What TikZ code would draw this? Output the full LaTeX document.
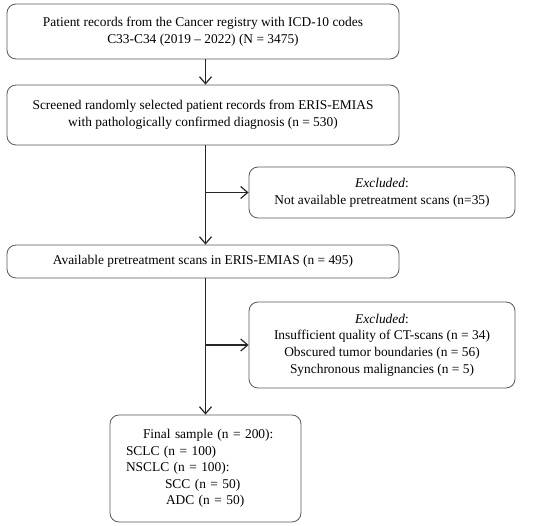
\documentclass[tikz,border=0pt]{standalone}
\usepackage{fontspec}
\setmainfont{Liberation Serif}
\usetikzlibrary{arrows.meta,positioning,calc}

\begin{document}
\begin{tikzpicture}[
	%	style def
    x=1pt, y=-1pt,
    box/.style={draw=black!65, line width=0.8pt, rounded corners=9pt, align=center,
        font=\fontsize{13.4}{16.6}\selectfont, inner sep=0pt},
    flow line/.style={line width=1.2pt, color=black!85, -{Straight Barb[length=7pt,width=12pt]}},
    every node/.style={color=black}
    ]
    \useasboundingbox (0,0) rectangle (550,526);

	% main column of boxes
    \node[box, minimum width=392pt, minimum height=55pt] (records) at (203,31.5)
        {Patient records from the Cancer registry with ICD-10 codes\\C33-C34 (2019 -- 2022) (N = 3475)};
    \node[box, minimum width=392pt, minimum height=60pt] (screened) at (203,115)
        {Screened randomly selected patient records from ERIS-EMIAS\\with pathologically confirmed diagnosis (n = 530)};
    \node[box, minimum width=392pt, minimum height=33pt] (avail) at (203,261.5)
        {Available pretreatment scans in ERIS-EMIAS (n = 495)};
    \node[box, minimum width=191pt, minimum height=107pt, text width=159pt, inner xsep=16pt, align=left] (final) at (205.5,468.5)
        {\hspace*{17pt}Final sample (n = 200):\\
         SCLC (n = 100)\\
         NSCLC (n = 100):\\
         \hspace*{39pt}SCC (n = 50)\\
         \hspace*{40pt}ADC (n = 50)};

    % excluded boxes on the right
    \node[box, minimum width=266pt, minimum height=51pt] (excl1) at (382,192.5)
        {\textit{Excluded}:\\Not available pretreatment scans (n=35)};
    \node[box, minimum width=266pt, minimum height=86pt] (excl2) at (382,345)
        {\textit{Excluded}:\\Insufficient quality of CT-scans (n = 34)\\
         Obscured tumor boundaries (n = 56)\\Synchronous malignancies (n = 5)};

    % connections
    \draw[flow line] (records.south -| final.north) -- (screened.north -| final.north);
    \draw[flow line] (screened.south -| final.north) -- (avail.north -| final.north);
    \draw[flow line] (avail.south -| final.north) -- (final.north);
    \coordinate (b1) at (screened.south -| final.north);
    \coordinate (b2) at (avail.south -| final.north);
    \draw[flow line] (b1 |- excl1.west) -- (excl1.west);
    \draw[flow line] (b2 |- excl2.west) -- (excl2.west);

\end{tikzpicture}
\end{document}
